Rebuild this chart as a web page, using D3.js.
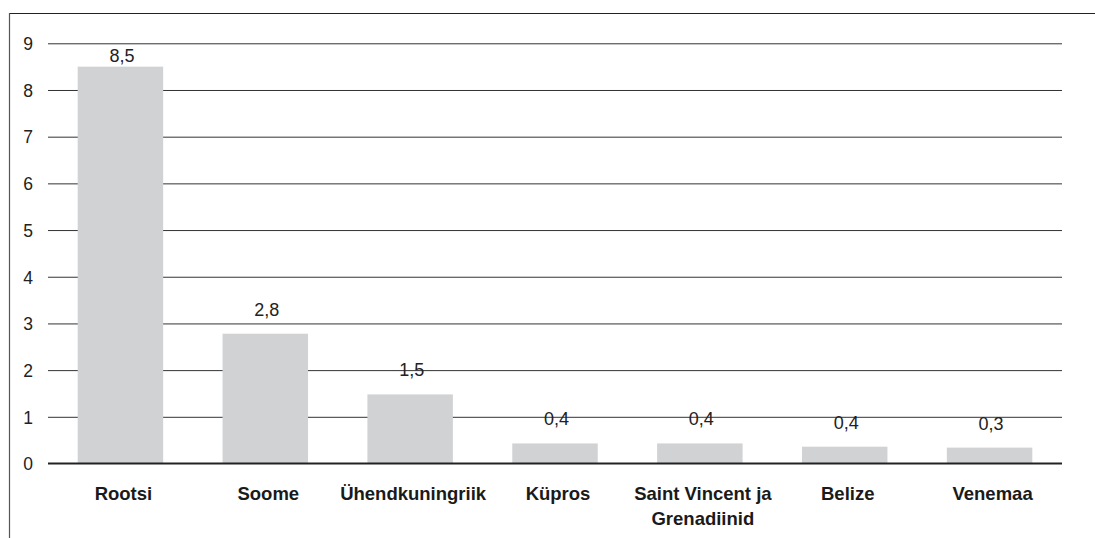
<!DOCTYPE html>
<html><head><meta charset="utf-8">
<script src="https://cdn.jsdelivr.net/npm/d3@7"></script>
<style>
html,body{margin:0;padding:0;background:#fff;}
svg{display:block;font-family:"Liberation Sans",Arial,Helvetica,sans-serif;}
</style></head>
<body><svg id="chart" width="1095" height="538"></svg>
<script>
const categories = ["Rootsi", "Soome", "Ühendkuningriik", "Küpros", "Saint Vincent ja|Grenadiinid", "Belize", "Venemaa"];
const values = [8.5, 2.78, 1.48, 0.43, 0.43, 0.36, 0.34];
const yTicks = [0, 1, 2, 3, 4, 5, 6, 7, 8, 9];

(function () {
const svg = d3.select("#chart");
const W = 1095, H = 538;
const mLeft = 48, mRight = 1062, mTop = 43.3, mBottom = 463.5;

// frame
svg.append("line").attr("x1", 9).attr("x2", W).attr("y1", 13.5).attr("y2", 13.5)
  .attr("stroke", "#222").attr("stroke-width", 1.2);
svg.append("line").attr("x1", 9.5).attr("x2", 9.5).attr("y1", 13).attr("y2", H)
  .attr("stroke", "#555").attr("stroke-width", 1.2);

const x = d3.scaleBand().domain(categories).range([mLeft, mRight])
  .paddingInner(0.41).paddingOuter(0.205);
const y = d3.scaleLinear().domain([0, 9]).range([mBottom, mTop]);

// gridlines
const yAxis = d3.axisLeft(y).tickValues(yTicks).tickSize(-(mRight - mLeft)).tickFormat(d => d);
const gy = svg.append("g").attr("transform", `translate(${mLeft},0)`).call(yAxis);
gy.select(".domain").remove();
gy.selectAll(".tick line").attr("stroke", "#333").attr("stroke-width", 1)
  .attr("stroke-opacity", d => d === 0 ? 0 : 1);
gy.selectAll(".tick text").attr("x", -15).attr("dy", "0.36em")
  .attr("font-size", 17.5).attr("fill", "#222").attr("font-family", "Liberation Sans, Arial, sans-serif");

// bars
svg.append("g").selectAll("rect").data(values).join("rect")
  .attr("x", (d, i) => x(categories[i]))
  .attr("width", x.bandwidth())
  .attr("y", d => y(d))
  .attr("height", d => y(0) - y(d))
  .attr("fill", "#d1d2d4");

// zero axis
svg.append("line").attr("x1", mLeft).attr("x2", mRight).attr("y1", y(0)).attr("y2", y(0))
  .attr("stroke", "#222").attr("stroke-width", 2);

// value labels
const fmt = v => d3.format(".1f")(v).replace(".", ",");
svg.append("g").selectAll("text").data(values).join("text")
  .attr("x", (d, i) => x(categories[i]) + x.bandwidth() / 2 + 1.5)
  .attr("y", d => Math.max(y(d) - 18, y(9) + 19))
  .attr("text-anchor", "middle")
  .attr("font-size", 18).attr("fill", "#222")
  .text(d => fmt(d));

// category labels
const xAxis = d3.axisBottom(x).tickSize(0).tickFormat("");
const gx = svg.append("g").attr("transform", `translate(0,${mBottom})`).call(xAxis);
gx.select(".domain").remove();
gx.selectAll(".tick").each(function(d) {
  const t = d3.select(this).append("text")
    .attr("text-anchor", "middle").attr("font-weight", "bold")
    .attr("font-size", 18.5).attr("fill", "#1a1a1a");
  d.split("|").forEach((line, k) => {
    t.append("tspan").attr("x", 3).attr("y", 36.5 + k * 25).text(line);
  });
});
})();
</script></body></html>
